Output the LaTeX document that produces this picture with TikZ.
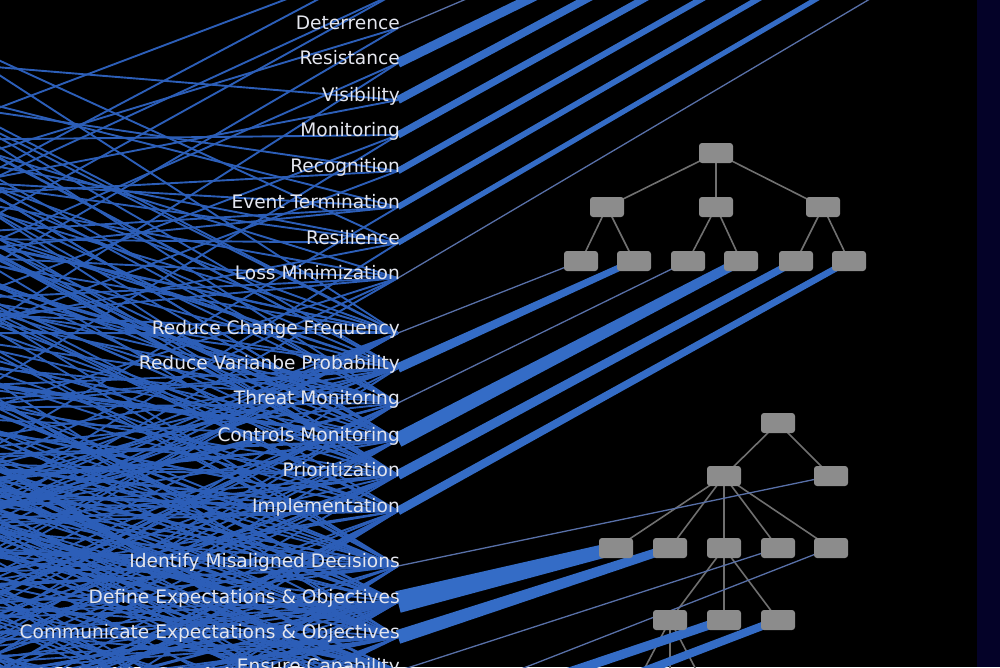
\documentclass[tikz,border=0pt]{standalone}
\usepackage{fontspec}
\setmainfont{DejaVu Sans}
\usetikzlibrary{calc}
\pgfdeclarelayer{back}
\pgfdeclarelayer{webl}
\pgfdeclarelayer{links}
\pgfsetlayers{back,webl,links,main}
\definecolor{bgnavy}{RGB}{4,2,40}
\definecolor{webblue}{RGB}{44,94,184}
\definecolor{bandblue}{RGB}{52,108,198}
\definecolor{thinblue}{RGB}{88,112,168}
\definecolor{boxgray}{RGB}{140,140,140}
\definecolor{edgegray}{RGB}{112,112,112}
\definecolor{labelwhite}{RGB}{228,230,238}
\newcommand\bandwedge[4]{\fill[bandblue] ($(#1)!#3!90:(#2)$) -- ($(#2)!#4!-90:(#1)$) -- ($(#2)!#4!90:(#1)$) -- ($(#1)!#3!-90:(#2)$) -- cycle;}
\tikzset{
  lbl/.style={anchor=base east, inner sep=0pt, text=labelwhite, font=\fontsize{18.6}{20}\selectfont},
  tbox/.style={fill=boxgray, rounded corners=3pt, minimum width=34pt, minimum height=20pt, inner sep=0pt},
  tedge/.style={draw=edgegray, line width=1.6pt},
  web/.style={draw=webblue, line width=1.9pt},
  thinlink/.style={draw=thinblue, line width=1.3pt},
}
\begin{document}
\begin{tikzpicture}[x=1pt,y=-1pt]
\useasboundingbox (0,0) rectangle (1000,667);
\begin{pgfonlayer}{back}
\fill[black] (0,0) rectangle (1000,667);
\fill[bgnavy] (977,0) rectangle (1000,667);
\end{pgfonlayer}

% labels
\foreach \i/\yy/\t in {1/29.5/Deterrence, 2/64.5/Resistance, 3/101.5/Visibility, 4/136.5/Monitoring,
  5/172.5/Recognition, 6/208.5/Event Termination, 7/244.5/Resilience, 8/279.5/Loss Minimization,
  9/334.5/Reduce Change Frequency, 10/369.5/Reduce Varianbe Probability, 11/404.5/Threat Monitoring,
  12/441.5/Controls Monitoring, 13/476.5/Prioritization, 14/512.5/Implementation,
  15/567.5/Identify Misaligned Decisions, 16/603.5/Define Expectations \& Objectives,
  17/638.5/Communicate Expectations \& Objectives, 18/672.5/Ensure Capability}
  {\node[lbl] (L\i) at (400,\yy) {\t};}
\foreach \i in {1,...,18} {\coordinate (W\i) at ([shift={(-2,-1.5)}]L\i.base east);}
\coordinate (W0) at (398,-8);
\coordinate (Wm) at (398,-43);
\foreach \i/\yy in {19/706, 20/741, 21/776, 22/811, 23/846, 24/881, 25/916, 26/951,
   27/986, 28/1021, 29/1056, 30/1091}
  {\coordinate (W\i) at (398,\yy);}

% tree 1
\node[tbox] (r1) at (716,153) {};
\node[tbox] (m1) at (607,207) {};
\node[tbox] (m2) at (716,207) {};
\node[tbox] (m3) at (823,207) {};
\node[tbox] (a1) at (581,261) {};
\node[tbox] (a2) at (634,261) {};
\node[tbox] (a3) at (688,261) {};
\node[tbox] (a4) at (741,261) {};
\node[tbox] (a5) at (796,261) {};
\node[tbox] (a6) at (849,261) {};
% tree 2
\node[tbox] (r2) at (778,423) {};
\node[tbox] (b1) at (724,476) {};
\node[tbox] (b2) at (831,476) {};
\node[tbox] (c1) at (616,548) {};
\node[tbox] (c2) at (670,548) {};
\node[tbox] (c3) at (724,548) {};
\node[tbox] (c4) at (778,548) {};
\node[tbox] (c5) at (831,548) {};
\node[tbox] (d1) at (670,620) {};
\node[tbox] (d2) at (724,620) {};
\node[tbox] (d3) at (778,620) {};
\coordinate (e1) at (628,700);
\coordinate (e2) at (670,700);
\coordinate (e3) at (712,700);

% web of thin lines
\begin{pgfonlayer}{webl}
\pgfmathsetseed{2718}
\foreach \a/\ay/\n in {Wm/-43/2, W0/-8/2, W1/28/2, W2/63/2, W3/100/2, W4/135/3, W5/171/3, W6/207/5,
   W7/243/6, W8/278/8, W9/333/18, W10/368/20, W11/403/23, W12/440/25, W13/475/27,
   W14/511/29, W15/566/31, W16/602/31, W17/637/31, W18/671/31, W19/706/30, W20/741/29,
   W21/776/27, W22/811/25, W23/846/22, W24/881/20, W25/916/18, W26/951/16, W27/986/14,
   W28/1021/12, W29/1056/9, W30/1091/7} {
  \foreach \k in {1,...,\n} {
    \pgfmathsetmacro\lo{max(-260,20+160*rnd-\ay)}
    \pgfmathsetmacro\d{\lo+(260-\lo)*rnd}
    \draw[web] (\a) -- ++(-560,1.4*\d);
  }
}
\end{pgfonlayer}

\begin{pgfonlayer}{links}
% tree edges
\foreach \p/\c in {r1/m1, r1/m2, r1/m3, m1/a1, m1/a2, m2/a3, m2/a4, m3/a5, m3/a6,
   r2/b1, r2/b2, b1/c1, b1/c2, b1/c3, b1/c4, b1/c5, c3/d1, c3/d2, c3/d3, d1/e1, d1/e2, d1/e3}
  {\draw[tedge] (\p.center) -- (\c.center);}
% group 1 to upper right
\coordinate (T1) at (511,-20);
\coordinate (T2) at (568,-20);
\coordinate (T3) at (622,-20);
\coordinate (T4) at (678,-20);
\coordinate (T5) at (735,-20);
\coordinate (T6) at (791,-20);
\coordinate (T7) at (849,-20);
\coordinate (T8) at (902,-20);
\draw[thinlink] (W1) -- (T1);
\bandwedge{W2}{T2}{4.8pt}{4.5pt}
\bandwedge{W3}{T3}{4pt}{3.8pt}
\bandwedge{W4}{T4}{3.6pt}{3.4pt}
\bandwedge{W5}{T5}{3.2pt}{3pt}
\bandwedge{W6}{T6}{3pt}{2.8pt}
\bandwedge{W7}{T7}{2.7pt}{2.5pt}
\draw[thinlink] (W8) -- (T8);
% group 2 to tree 1 leaves
\draw[thinlink] (W9) -- (a1.center);
\bandwedge{W10}{a2.center}{4.8pt}{3.2pt}
\draw[thinlink] (W11) -- (a3.center);
\bandwedge{W12}{a4.center}{7.5pt}{4.8pt}
\bandwedge{W13}{a5.center}{5pt}{3.6pt}
\bandwedge{W14}{a6.center}{4.3pt}{3.2pt}
% group 3 to tree 2
\draw[thinlink] (W15) -- (b2.center);
\bandwedge{W16}{c1.center}{11pt}{6.5pt}
\bandwedge{W17}{c2.center}{7pt}{4.2pt}
\draw[thinlink] (W18) -- (c4.center);
\coordinate (U1) at (398,717);
\coordinate (U2) at (398,730);
\coordinate (U3) at (398,765);
\draw[thinlink] (U1) -- (c5.center);
\bandwedge{U2}{d2.center}{5pt}{4.5pt}
\bandwedge{U3}{d3.center}{4.5pt}{4pt}
\end{pgfonlayer}
\end{tikzpicture}
\end{document}
